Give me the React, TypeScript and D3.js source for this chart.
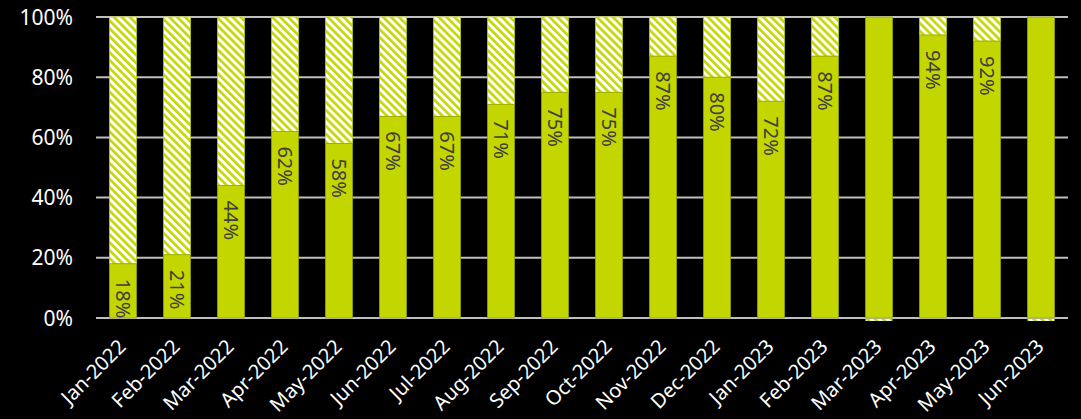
import React from "react";
import * as d3 from "d3";

const categories = [
  "Jan-2022", "Feb-2022", "Mar-2022", "Apr-2022", "May-2022", "Jun-2022",
  "Jul-2022", "Aug-2022", "Sep-2022", "Oct-2022", "Nov-2022", "Dec-2022",
  "Jan-2023", "Feb-2023", "Mar-2023", "Apr-2023", "May-2023", "Jun-2023",
];
const values = [18, 21, 44, 62, 58, 67, 67, 71, 75, 75, 87, 80, 72, 87, 100, 94, 92, 100];
const showLabel = [true, true, true, true, true, true, true, true, true, true, true, true, true, true, false, true, true, false];
const yTicks = [0, 20, 40, 60, 80, 100];

const W = 1081;
const H = 419;
const margin = { left: 96, right: 13, top: 17, bottom: 101 };
const GREEN = "#c4d600";
const FONT = "'Noto Sans', 'Open Sans', sans-serif";

export default function App() {
  const x = d3
    .scaleBand<string>()
    .domain(categories)
    .range([margin.left, W - margin.right])
    .paddingInner(0.5)
    .paddingOuter(0.25);
  const y = d3.scaleLinear().domain([0, 100]).range([H - margin.bottom, margin.top]);
  const bw = x.bandwidth();

  return (
    <svg
      width={W}
      height={H}
      style={{ position: "absolute", left: 0, top: 0, background: "#000", display: "block" }}
    >
      <defs>
        <pattern id="hatch" patternUnits="userSpaceOnUse" width="5.6" height="5.6" patternTransform="rotate(45)">
          <rect x="0" y="0" width="5.6" height="5.6" fill={GREEN} />
          <rect x="0" y="0" width="5.6" height="3" fill="#ffffff" />
        </pattern>
      </defs>
      <rect x={0} y={0} width={W} height={H} fill="#000" />
      {yTicks.map((t) => (
        <line
          key={t}
          x1={margin.left}
          x2={W - margin.right}
          y1={y(t)}
          y2={y(t)}
          stroke="#bfbfbf"
          strokeWidth={2}
        />
      ))}
      {yTicks.map((t) => (
        <text
          key={"yl" + t}
          x={73}
          y={y(t)}
          dy="0.36em"
          textAnchor="end"
          fill="#ffffff"
          fontFamily={FONT}
          fontSize={21}
        >
          {t}%
        </text>
      ))}
      {categories.map((c, i) => {
        const v = values[i];
        const x0 = x(c)!;
        return (
          <g key={c}>
            {v < 100 && (
              <rect
                x={x0}
                y={y(100)}
                width={bw}
                height={y(v) - y(100)}
                fill="url(#hatch)"
                stroke={GREEN}
                strokeWidth={0.75}
              />
            )}
            <rect
              x={x0}
              y={y(v)}
              width={bw}
              height={y(0) - y(v)}
              fill={GREEN}
              stroke="#9aa800"
              strokeWidth={0.75}
            />
            {v >= 100 && (
              <rect x={x0} y={y(0) + 1} width={bw} height={2} fill="url(#hatch)" />
            )}
          </g>
        );
      })}
      {categories.map((c, i) => {
        if (!showLabel[i]) return null;
        const cx = x(c)! + bw / 2;
        const ty = y(values[i]) + 15;
        return (
          <text
            key={"vl" + c}
            transform={`translate(${cx},${ty}) rotate(90)`}
            dy="0.36em"
            textAnchor="start"
            fill="#404040"
            fontFamily={FONT}
            fontSize={20}
          >
            {values[i]}%
          </text>
        );
      })}
      {categories.map((c) => {
        const cx = x(c)! + bw / 2 + 4;
        const ty = y(0) + 30;
        return (
          <text
            key={"xl" + c}
            transform={`translate(${cx},${ty}) rotate(-45)`}
            textAnchor="end"
            fill="#ffffff"
            fontFamily={FONT}
            fontSize={20}
          >
            {c}
          </text>
        );
      })}
    </svg>
  );
}
